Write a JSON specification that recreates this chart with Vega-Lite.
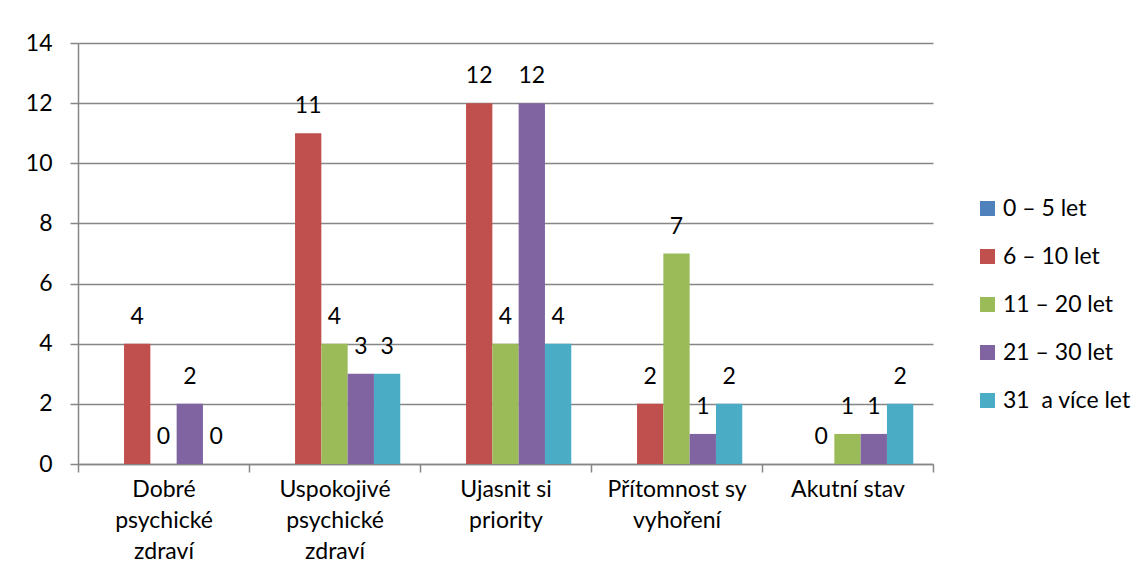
{
  "$schema": "https://vega.github.io/schema/vega-lite/v6.json",
  "width": 855,
  "height": 421,
  "autosize": {"type": "none"},
  "padding": {"left": 78, "top": 43, "right": 213, "bottom": 122},
  "background": "white",
  "data": {
    "values": [
      {"kategorie": "Dobré psychické zdraví", "serie": "6 – 10 let", "hodnota": 4},
      {"kategorie": "Dobré psychické zdraví", "serie": "11 – 20 let", "hodnota": 0},
      {"kategorie": "Dobré psychické zdraví", "serie": "21 – 30 let", "hodnota": 2},
      {"kategorie": "Dobré psychické zdraví", "serie": "31\u00a0 a více let", "hodnota": 0},
      {"kategorie": "Uspokojivé psychické zdraví", "serie": "6 – 10 let", "hodnota": 11},
      {"kategorie": "Uspokojivé psychické zdraví", "serie": "11 – 20 let", "hodnota": 4},
      {"kategorie": "Uspokojivé psychické zdraví", "serie": "21 – 30 let", "hodnota": 3},
      {"kategorie": "Uspokojivé psychické zdraví", "serie": "31\u00a0 a více let", "hodnota": 3},
      {"kategorie": "Ujasnit si priority", "serie": "6 – 10 let", "hodnota": 12},
      {"kategorie": "Ujasnit si priority", "serie": "11 – 20 let", "hodnota": 4},
      {"kategorie": "Ujasnit si priority", "serie": "21 – 30 let", "hodnota": 12},
      {"kategorie": "Ujasnit si priority", "serie": "31\u00a0 a více let", "hodnota": 4},
      {"kategorie": "Přítomnost sy vyhoření", "serie": "6 – 10 let", "hodnota": 2},
      {"kategorie": "Přítomnost sy vyhoření", "serie": "11 – 20 let", "hodnota": 7},
      {"kategorie": "Přítomnost sy vyhoření", "serie": "21 – 30 let", "hodnota": 1},
      {"kategorie": "Přítomnost sy vyhoření", "serie": "31\u00a0 a více let", "hodnota": 2},
      {"kategorie": "Akutní stav", "serie": "6 – 10 let", "hodnota": 0},
      {"kategorie": "Akutní stav", "serie": "11 – 20 let", "hodnota": 1},
      {"kategorie": "Akutní stav", "serie": "21 – 30 let", "hodnota": 1},
      {"kategorie": "Akutní stav", "serie": "31\u00a0 a více let", "hodnota": 2}
    ]
  },
  "encoding": {
    "x": {
      "field": "kategorie",
      "type": "nominal",
      "sort": ["Dobré psychické zdraví", "Uspokojivé psychické zdraví", "Ujasnit si priority", "Přítomnost sy vyhoření", "Akutní stav"],
      "scale": {"paddingInner": 0, "paddingOuter": 0},
      "axis": {
        "title": null,
        "labelAngle": 0,
        "tickBand": "extent",
        "tickSize": 8,
        "tickColor": "#868686",
        "tickWidth": 1.5,
        "domainColor": "#868686",
        "domainWidth": 1.5,
        "labelFont": "Lato",
        "labelFontSize": 23,
        "labelColor": "#000000",
        "labelPadding": 6,
        "labelLineHeight": 31,
        "labelBaseline": "top",
        "labelExpr": "datum.value == 'Dobré psychické zdraví' ? ['Dobré','psychické','zdraví'] : datum.value == 'Uspokojivé psychické zdraví' ? ['Uspokojivé','psychické','zdraví'] : datum.value == 'Ujasnit si priority' ? ['Ujasnit si','priority'] : datum.value == 'Přítomnost sy vyhoření' ? ['Přítomnost sy','vyhoření'] : datum.value"
      }
    },
    "xOffset": {
      "field": "serie",
      "type": "nominal",
      "scale": {
        "domain": ["0 – 5 let", "6 – 10 let", "11 – 20 let", "21 – 30 let", "31\u00a0 a více let"],
        "paddingInner": 0,
        "paddingOuter": 0.75
      }
    },
    "y": {
      "field": "hodnota",
      "type": "quantitative",
      "scale": {"domain": [0, 14], "nice": false},
      "axis": {
        "title": null,
        "values": [0, 2, 4, 6, 8, 10, 12, 14],
        "grid": true,
        "gridColor": "#868686",
        "gridWidth": 1.5,
        "tickSize": 8,
        "tickColor": "#868686",
        "tickWidth": 1.5,
        "domainColor": "#868686",
        "domainWidth": 1.5,
        "labelFont": "Lato",
        "labelFontSize": 23,
        "labelColor": "#000000",
        "labelPadding": 18
      }
    }
  },
  "layer": [
    {
      "mark": {"type": "bar"},
      "encoding": {
        "color": {
          "field": "serie",
          "type": "nominal",
          "scale": {
            "domain": ["0 – 5 let", "6 – 10 let", "11 – 20 let", "21 – 30 let", "31\u00a0 a více let"],
            "range": ["#4F81BD", "#C0504D", "#9BBB59", "#8064A2", "#4BACC6"]
          },
          "legend": {
            "title": null,
            "orient": "none",
            "legendX": 898,
            "legendY": 154,
            "padding": 0,
            "symbolType": "square",
            "symbolSize": 225,
            "symbolStrokeWidth": 0,
            "labelFont": "Lato",
            "labelFontSize": 23,
            "labelColor": "#000000",
            "labelOffset": 4,
            "rowPadding": 24,
            "labelLimit": 300
          }
        }
      }
    },
    {
      "mark": {"type": "text", "dy": -27, "font": "Lato", "fontSize": 23, "color": "#000000", "baseline": "middle"},
      "encoding": {"text": {"field": "hodnota", "type": "quantitative"}}
    }
  ],
  "config": {"view": {"stroke": null}}
}
